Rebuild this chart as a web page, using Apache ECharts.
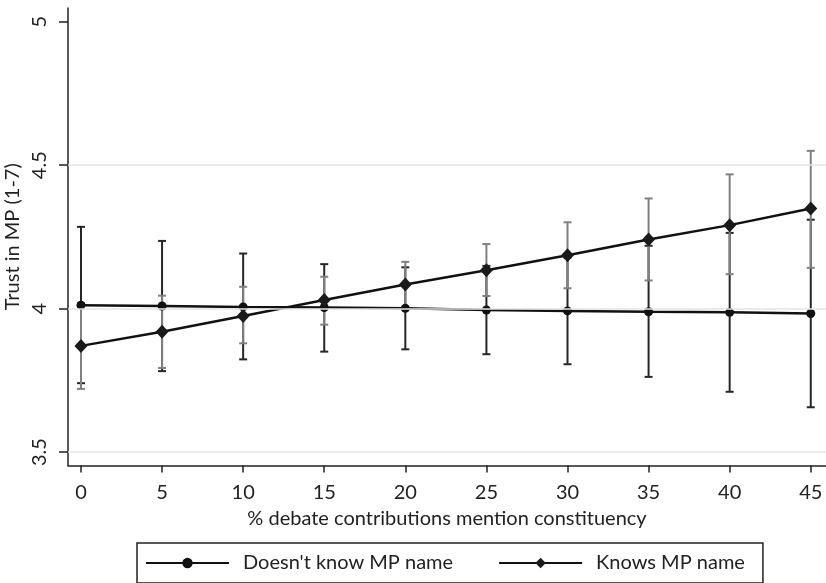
<!DOCTYPE html>
<html>
<head>
<meta charset="utf-8">
<script src="https://cdn.jsdelivr.net/npm/echarts@6/dist/echarts.min.js"></script>
<style>
  html, body { margin: 0; padding: 0; background: #fff; }
  #main { width: 826px; height: 583px; }
</style>
</head>
<body>
<div id="main"></div>
<script>
// x positions (% debate contributions mentioning constituency)
const xs = [0, 5, 10, 15, 20, 25, 30, 35, 40, 45];

// Doesn't know MP name: estimate and 95% CI
const dkMean = [4.012, 4.009, 4.006, 4.004, 4.001, 3.995, 3.992, 3.989, 3.987, 3.983];
const dkLow  = [3.740, 3.782, 3.823, 3.850, 3.858, 3.841, 3.806, 3.762, 3.710, 3.656];
const dkHigh = [4.285, 4.236, 4.192, 4.155, 4.144, 4.149, 4.178, 4.219, 4.264, 4.310];

// Knows MP name: estimate and 95% CI
const kMean = [3.870, 3.919, 3.974, 4.030, 4.084, 4.134, 4.186, 4.241, 4.291, 4.349];
const kLow  = [3.720, 3.793, 3.879, 3.944, 4.005, 4.044, 4.071, 4.098, 4.120, 4.142];
const kHigh = [4.020, 4.045, 4.076, 4.111, 4.163, 4.225, 4.301, 4.384, 4.468, 4.550];

const xTicks = [0, 5, 10, 15, 20, 25, 30, 35, 40, 45];
const yTicks = [3.5, 4, 4.5, 5];
const yGrid = [3.5, 4, 4.5];

const FONT = 'Lato';
const FS = 20;

const chart = echarts.init(document.getElementById('main'));

function errorBars(color) {
  return function (params, api) {
    const x = api.value(0);
    const lo = api.coord([x, api.value(1)]);
    const hi = api.coord([x, api.value(2)]);
    const w = 4;
    const style = { stroke: color, lineWidth: 2 };
    return {
      type: 'group',
      children: [
        { type: 'line', shape: { x1: lo[0], y1: lo[1], x2: hi[0], y2: hi[1] }, style },
        { type: 'line', shape: { x1: lo[0] - w, y1: lo[1], x2: lo[0] + w, y2: lo[1] }, style },
        { type: 'line', shape: { x1: hi[0] - w, y1: hi[1], x2: hi[0] + w, y2: hi[1] }, style }
      ]
    };
  };
}

const option = {
  animation: false,
  backgroundColor: '#fff',
  textStyle: { fontFamily: FONT },
  grid: { left: 68, right: 0, top: 8, bottom: 117.5, containLabel: false, outerBoundsMode: 'none' },
  legend: {
    left: 137,
    top: 543,
    padding: [10, 18, 10, 8],
    itemGap: 45,
    itemWidth: 83,
    itemHeight: 13,
    borderColor: '#222',
    borderWidth: 1.5,
    borderRadius: 0,
    textStyle: { fontFamily: FONT, fontSize: FS, color: '#222', padding: [0, 0, 0, 9] },
    data: ["Doesn't know MP name", 'Knows MP name']
  },
  xAxis: {
    type: 'value',
    min: -0.8,
    max: 45.94,
    name: '% debate contributions mention constituency',
    nameLocation: 'middle',
    nameGap: 43,
    nameTextStyle: { fontFamily: FONT, fontSize: FS, color: '#222' },
    axisLine: { show: true, onZero: false, lineStyle: { color: '#222', width: 1.5 } },
    axisTick: { show: true, length: 7, customValues: xTicks, lineStyle: { color: '#222', width: 1.5 } },
    axisLabel: { customValues: xTicks, margin: 17, fontFamily: FONT, fontSize: FS, color: '#222' },
    splitLine: { show: false }
  },
  yAxis: {
    type: 'value',
    min: 3.453,
    max: 5.048,
    name: 'Trust in MP (1-7)',
    nameLocation: 'middle',
    nameRotate: 90,
    nameGap: 41,
    nameTextStyle: { fontFamily: FONT, fontSize: FS, color: '#222' },
    axisLine: { show: true, onZero: false, lineStyle: { color: '#222', width: 1.5 } },
    axisTick: { show: true, length: 9, customValues: yTicks, lineStyle: { color: '#222', width: 1.5 } },
    axisLabel: { customValues: yTicks, rotate: 90, margin: 18, fontFamily: FONT, fontSize: FS, color: '#222' },
    splitLine: { show: false }
  },
  series: [
    {
      name: 'grid',
      type: 'line',
      data: [],
      z: 0,
      silent: true,
      markLine: {
        silent: true,
        symbol: 'none',
        label: { show: false },
        lineStyle: { color: '#e4e4e4', width: 1.5, type: 'solid' },
        data: yGrid.map(v => ({ yAxis: v }))
      }
    },
    {
      name: 'dkBars',
      type: 'custom',
      z: 1,
      silent: true,
      renderItem: errorBars('#262626'),
      data: xs.map((x, i) => [x, dkLow[i], dkHigh[i]])
    },
    {
      name: 'kBars',
      type: 'custom',
      z: 2,
      silent: true,
      renderItem: errorBars('#808080'),
      data: xs.map((x, i) => [x, kLow[i], kHigh[i]])
    },
    {
      name: "Doesn't know MP name",
      type: 'line',
      z: 3,
      symbol: 'circle',
      symbolSize: 9,
      lineStyle: { color: '#111', width: 2.5 },
      itemStyle: { color: '#111' },
      data: xs.map((x, i) => [x, dkMean[i]])
    },
    {
      name: 'Knows MP name',
      type: 'line',
      z: 4,
      symbol: 'diamond',
      symbolSize: [13, 14],
      lineStyle: { color: '#111', width: 2.5 },
      itemStyle: { color: '#1a1a1a' },
      data: xs.map((x, i) => [x, kMean[i]])
    }
  ]
};

chart.setOption(option);
</script>
</body>
</html>
